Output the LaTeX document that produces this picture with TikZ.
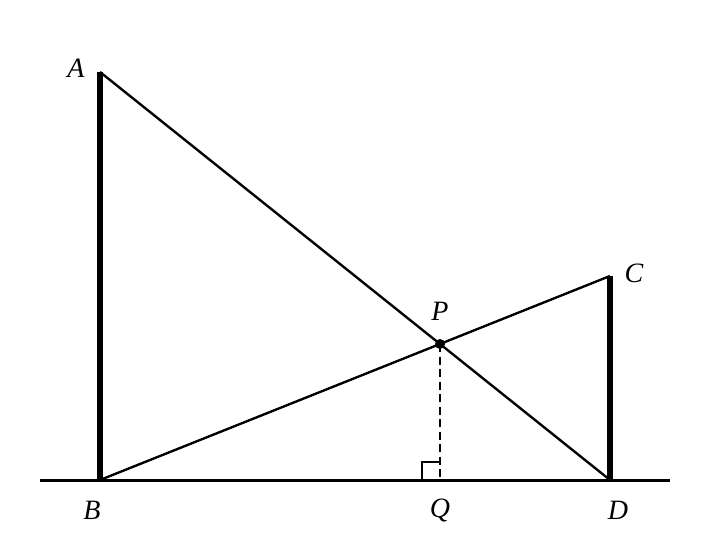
\documentclass[tikz,border=0pt]{standalone}
\usepackage{fontspec}
\setmainfont{Liberation Serif}
\begin{document}
\begin{tikzpicture}[x=1pt,y=-1pt,
  thin line/.style={line width=2.4pt},
  thick post/.style={line width=5.5pt},
  lbl/.style={font=\fontsize{28}{32}\selectfont\itshape, inner sep=0pt}]
\useasboundingbox (0,0) rectangle (720,540);
\coordinate (A) at (100,72);
\coordinate (B) at (100,480);
\coordinate (C) at (610,276);
\coordinate (D) at (610,480);
\coordinate (P) at (440,344);
\coordinate (Q) at (440,480);
\coordinate (L) at (40,480);
\coordinate (R) at (670,480);
\draw[line width=3pt] (L) -- (R);
\draw[thick post] (A) -- (B);
\draw[thick post] (C) -- (D);
\draw[thin line] (A) -- (D);
\draw[thin line] (B) -- (C);
\draw[thin line, dash pattern=on 8pt off 4.5pt] (P) -- (Q);
\draw[line width=2pt] ([xshift=-18pt]Q) -- ++(0,-18) -- ++(18,0);
\fill (P) circle (5pt);
\node[lbl] (lA) at (76,68) {A};
\node[lbl] (lB) at (92,510) {B};
\node[lbl] (lC) at (634,273) {C};
\node[lbl] (lD) at (618,510) {D};
\node[lbl] (lP) at (440,311) {P};
\node[lbl] (lQ) at (440,510) {Q};
\end{tikzpicture}
\end{document}
